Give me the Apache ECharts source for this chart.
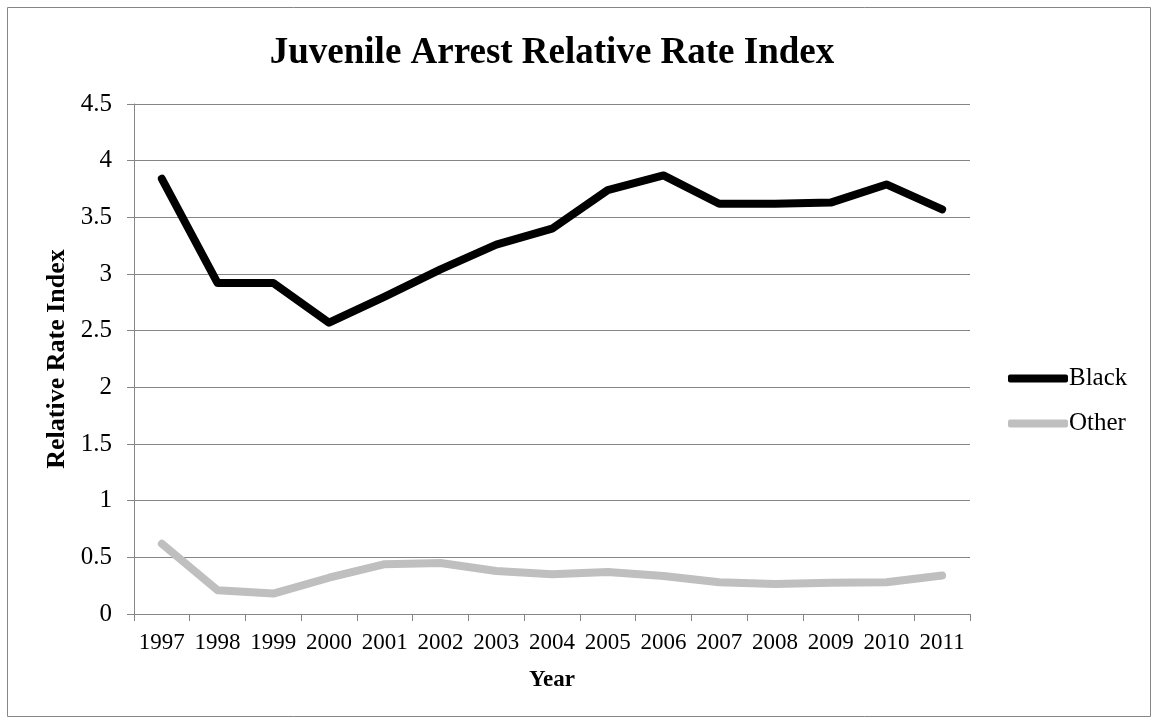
<!DOCTYPE html>
<html>
<head>
<meta charset="utf-8">
<script src="https://cdn.jsdelivr.net/npm/echarts@6/dist/echarts.min.js"></script>
<style>
  html, body { margin: 0; padding: 0; background: #fff; }
  #chart { width: 1157px; height: 723px; }
</style>
</head>
<body>
<div id="chart"></div>
<script>
// Years on the category axis
const years = ['1997', '1998', '1999', '2000', '2001', '2002', '2003', '2004',
               '2005', '2006', '2007', '2008', '2009', '2010', '2011'];

// Relative rate index by year
const blackValues = [3.84, 2.92, 2.92, 2.57, 2.80, 3.04, 3.26, 3.40,
                     3.74, 3.87, 3.62, 3.62, 3.63, 3.79, 3.57];
const otherValues = [0.62, 0.21, 0.18, 0.32, 0.44, 0.45, 0.38, 0.35,
                     0.37, 0.335, 0.28, 0.265, 0.275, 0.28, 0.34];

const seriesNames = ['Black', 'Other'];
const seriesColors = ['#000000', '#bfbfbf'];

const serif = '"Liberation Serif", "Times New Roman", serif';
const axisGray = '#868686';

const chart = echarts.init(document.getElementById('chart'), null, { renderer: 'canvas' });

chart.setOption({
  animation: false,
  backgroundColor: '#ffffff',
  textStyle: { fontFamily: serif },
  graphic: [{
    type: 'rect',
    shape: { x: 7.5, y: 7.5, width: 1143, height: 709 },
    style: { fill: 'none', stroke: axisGray, lineWidth: 1 },
    silent: true
  }],
  title: {
    text: 'Juvenile Arrest Relative Rate Index',
    left: 552,
    textAlign: 'center',
    top: 35,
    padding: 0,
    textStyle: { fontFamily: serif, fontWeight: 'bold', fontSize: 37, color: '#000' }
  },
  legend: {
    orient: 'vertical',
    left: 1008,
    top: 366,
    padding: 0,
    itemWidth: 60,
    itemHeight: 8,
    itemGap: 20,
    icon: 'roundRect',
    data: seriesNames,
    textStyle: { fontFamily: serif, fontSize: 25, lineHeight: 25, color: '#000', padding: [0, 0, 0, -4] }
  },
  grid: { left: 134, top: 104, width: 836, height: 510, containLabel: false },
  xAxis: {
    type: 'category',
    data: years,
    boundaryGap: true,
    name: 'Year',
    nameLocation: 'middle',
    nameGap: 55,
    nameTextStyle: { fontFamily: serif, fontWeight: 'bold', fontSize: 23, color: '#000' },
    axisLine: { lineStyle: { color: axisGray, width: 1 } },
    axisTick: { show: true, length: 7, alignWithLabel: false, lineStyle: { color: axisGray } },
    axisLabel: { margin: 17, fontFamily: serif, fontSize: 23, color: '#000', interval: 0 },
    splitLine: { show: false }
  },
  yAxis: {
    type: 'value',
    min: 0,
    max: 4.5,
    interval: 0.5,
    name: 'Relative Rate Index',
    nameLocation: 'middle',
    nameGap: 64,
    nameTextStyle: { fontFamily: serif, fontWeight: 'bold', fontSize: 26, color: '#000' },
    axisLine: { show: true, lineStyle: { color: axisGray, width: 1 } },
    axisTick: { show: true, length: 7, lineStyle: { color: axisGray } },
    axisLabel: { margin: 22, fontFamily: serif, fontSize: 25, color: '#000' },
    splitLine: { show: true, lineStyle: { color: axisGray, width: 1 } }
  },
  series: [
    {
      name: seriesNames[0],
      type: 'line',
      data: blackValues,
      showSymbol: false,
      symbol: 'none',
      color: seriesColors[0],
      lineStyle: { color: seriesColors[0], width: 8, cap: 'round', join: 'round' },
      itemStyle: { color: seriesColors[0] }
    },
    {
      name: seriesNames[1],
      type: 'line',
      data: otherValues,
      showSymbol: false,
      symbol: 'none',
      color: seriesColors[1],
      lineStyle: { color: seriesColors[1], width: 8, cap: 'round', join: 'round' },
      itemStyle: { color: seriesColors[1] }
    }
  ]
});
</script>
</body>
</html>
